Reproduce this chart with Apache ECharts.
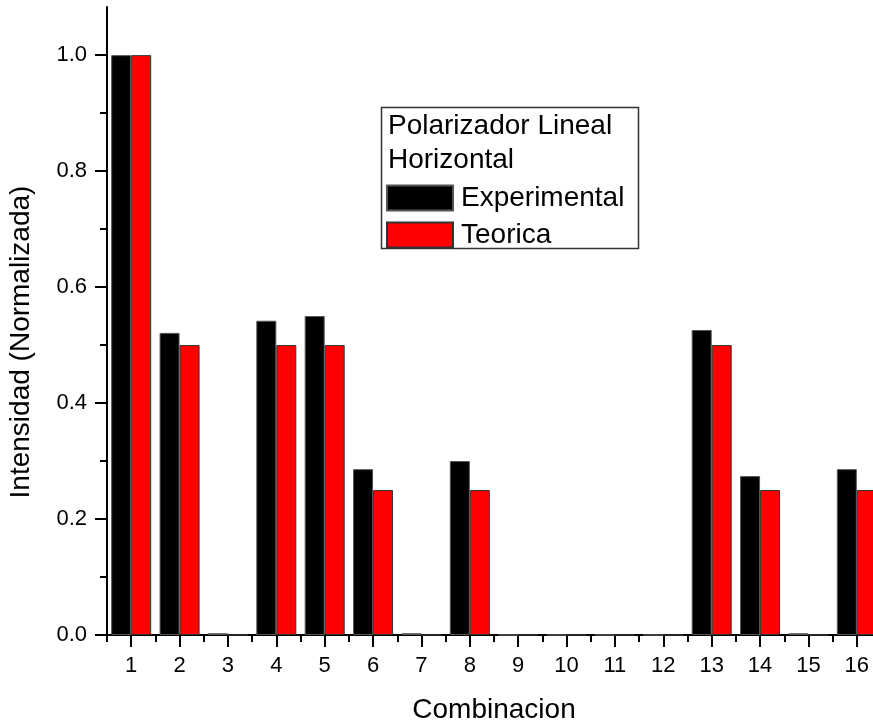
<!DOCTYPE html>
<html>
<head>
<meta charset="utf-8">
<script src="https://cdn.jsdelivr.net/npm/echarts@6/dist/echarts.min.js"></script>
<style>
html,body{margin:0;padding:0;background:#fff;}
#chart{width:873px;height:723px;}
</style>
</head>
<body>
<div id="chart"></div>
<script>
const categories = ['1','2','3','4','5','6','7','8','9','10','11','12','13','14','15','16'];
const experimental = [1.0, 0.521, 0.003, 0.542, 0.550, 0.286, 0.003, 0.300, 0, 0, 0, 0, 0.526, 0.274, 0.003, 0.286];
const teorica = [1.0, 0.5, 0, 0.5, 0.5, 0.25, 0, 0.25, 0, 0, 0, 0, 0.5, 0.25, 0, 0.25];
const yMajorTicks = [0, 0.2, 0.4, 0.6, 0.8, 1.0];
const yMinorTicks = [0.1, 0.3, 0.5, 0.7, 0.9];
const seriesNames = ['Experimental', 'Teorica'];
const legendTitle = 'Polarizador Lineal\nHorizontal';
const xTitle = 'Combinacion';
const yTitle = 'Intensidad (Normalizada)';

const FONT = "'Liberation Sans', Arial, sans-serif";
const chart = echarts.init(document.getElementById('chart'), null, {renderer: 'canvas'});
const Y_MIN = 0, Y_MAX = 1.083;

const option = {
  animation: false,
  backgroundColor: '#fff',
  textStyle: {fontFamily: FONT, color: '#000'},
  grid: {left: 107, top: 7, width: 774, height: 628, containLabel: false, outerBoundsMode: 'none'},
  legend: {
    data: seriesNames,
    orient: 'vertical',
    left: 386, top: 184,
    padding: 0,
    itemGap: 9,
    itemWidth: 66, itemHeight: 25,
    icon: 'rect',
    textStyle: {fontFamily: FONT, fontSize: 28, color: '#000', padding: [0, 0, 0, 3]}
  },
  graphic: [
    {type: 'rect', z: 0, shape: {x: 381.5, y: 107.5, width: 257, height: 141},
     style: {fill: '#fff', stroke: '#333', lineWidth: 1.5}},
    {type: 'text', z: 1, left: 388, top: 109,
     style: {text: legendTitle, font: "28px 'Liberation Sans', Arial, sans-serif", fill: '#000', lineHeight: 34}}
  ],
  xAxis: [
    {
      type: 'category', data: categories, gridIndex: 0,
      axisLine: {show: true, lineStyle: {color: '#000', width: 2}},
      axisTick: {show: true, alignWithLabel: true, length: 12, lineStyle: {color: '#000', width: 2}},
      axisLabel: {fontFamily: FONT, fontSize: 22, color: '#000', margin: 20, interval: 0},
      splitLine: {show: false},
      name: xTitle, nameLocation: 'middle', nameGap: 61,
      nameTextStyle: {fontFamily: FONT, fontSize: 28, color: '#000'}
    },
    {
      type: 'category', data: categories, gridIndex: 0, position: 'bottom',
      axisLine: {show: false},
      axisTick: {show: true, alignWithLabel: false, interval: 0, length: 7, lineStyle: {color: '#000', width: 2}},
      axisLabel: {show: false},
      splitLine: {show: false}
    }
  ],
  yAxis: [
    {
      type: 'value', min: Y_MIN, max: Y_MAX, interval: 0.2,
      axisLine: {show: true, lineStyle: {color: '#000', width: 2}},
      axisTick: {show: true, length: 12, customValues: yMajorTicks, lineStyle: {color: '#000', width: 2}},
      axisLabel: {customValues: yMajorTicks, fontFamily: FONT, fontSize: 22, color: '#000', margin: 20,
                  formatter: v => Number(v).toFixed(1)},
      splitLine: {show: false},
      name: yTitle, nameLocation: 'middle', nameGap: 72, nameRotate: 90,
      nameTextStyle: {fontFamily: FONT, fontSize: 28, color: '#000', padding: [0, 42, 0, 0]}
    },
    {
      type: 'value', min: Y_MIN, max: Y_MAX, interval: 0.2, position: 'left',
      axisLine: {show: false},
      axisTick: {show: true, length: 7, customValues: yMinorTicks, lineStyle: {color: '#000', width: 2}},
      axisLabel: {show: false},
      splitLine: {show: false}
    }
  ],
  series: [
    {
      name: seriesNames[0], type: 'bar', data: experimental, xAxisIndex: 0, yAxisIndex: 0,
      barWidth: 20, barGap: '0%',
      itemStyle: {color: '#000', borderColor: '#555', borderWidth: 1}
    },
    {
      name: seriesNames[1], type: 'bar', data: teorica, xAxisIndex: 0, yAxisIndex: 0,
      barWidth: 20, barGap: '0%',
      itemStyle: {color: '#ff0000', borderColor: '#333', borderWidth: 1}
    }
  ]
};
chart.setOption(option);
</script>
</body>
</html>
